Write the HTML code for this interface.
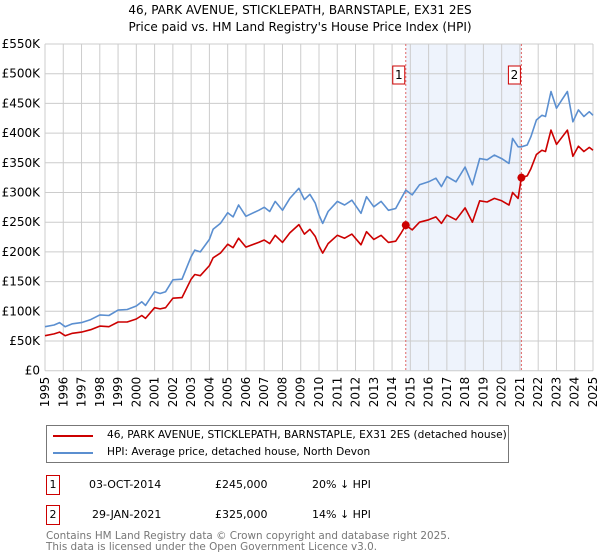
<!DOCTYPE html>
<html><head><meta charset="utf-8"><style>
body{margin:0;background:#fff;font-family:"DejaVu Sans","Liberation Sans",sans-serif;}
#root{position:relative;width:600px;height:560px;overflow:hidden;}
.t{position:absolute;font-size:11px;color:#000;white-space:nowrap;}
</style></head><body>
<div id="root">
<div class="t" style="left:0;width:600px;text-align:center;top:2px;font-size:12px;line-height:17px">46, PARK AVENUE, STICKLEPATH, BARNSTAPLE, EX31 2ES<br>Price paid vs. HM Land Registry's House Price Index (HPI)</div>
<svg id="chart" width="600" height="410" style="position:absolute;left:0;top:0" font-family="DejaVu Sans, Liberation Sans, sans-serif" font-size="12"></svg>
<div style="position:absolute;left:46px;top:425px;width:461px;height:36px;border:1px solid #777;">
 <div style="position:absolute;left:6px;top:2px;height:16px;width:450px">
  <div style="position:absolute;left:0;top:7px;width:40px;height:2px;background:#cc0000"></div>
  <span class="t" style="left:54px;top:1px;font-size:10.6px">46, PARK AVENUE, STICKLEPATH, BARNSTAPLE, EX31 2ES (detached house)</span></div>
 <div style="position:absolute;left:6px;top:19px;height:16px;width:450px">
  <div style="position:absolute;left:0;top:7px;width:40px;height:2px;background:#5b8fd0"></div>
  <span class="t" style="left:54px;top:1px;font-size:10.6px">HPI: Average price, detached house, North Devon</span></div>
</div>
<div>
 <div class="t" style="left:46px;top:475px;width:12px;height:18px;border:1px solid #cc0000;text-align:center;line-height:18px">1</div>
 <div class="t" style="left:89px;top:478px">03-OCT-2014</div>
 <div class="t" style="left:215px;top:478px">£245,000</div>
 <div class="t" style="left:312px;top:478px">20% ↓ HPI</div>
</div>
<div>
 <div class="t" style="left:46px;top:505px;width:12px;height:18px;border:1px solid #cc0000;text-align:center;line-height:18px">2</div>
 <div class="t" style="left:92px;top:508px">29-JAN-2021</div>
 <div class="t" style="left:215px;top:508px">£325,000</div>
 <div class="t" style="left:312px;top:508px">14% ↓ HPI</div>
</div>
<div class="t" style="left:46px;top:531px;color:#777;font-size:10.4px;line-height:11px">Contains HM Land Registry data © Crown copyright and database right 2025.<br>This data is licensed under the Open Government Licence v3.0.</div>
</div>
<script>
const years=[1995,1995.5,1995.8,1996.1,1996.5,1997,1997.5,1998,1998.5,1999,1999.5,2000,2000.3,2000.5,2001,2001.3,2001.6,2002,2002.5,2003,2003.2,2003.5,2004,2004.2,2004.6,2005,2005.3,2005.6,2006,2006.7,2007,2007.3,2007.6,2008,2008.4,2008.9,2009.2,2009.5,2009.8,2010,2010.2,2010.5,2011,2011.4,2011.8,2012.3,2012.6,2013,2013.4,2013.8,2014.2,2014.5,2014.75,2015.1,2015.5,2016,2016.4,2016.7,2017,2017.5,2018,2018.4,2018.8,2019.2,2019.6,2020,2020.4,2020.6,2020.9,2021.08,2021.4,2021.6,2021.9,2022.2,2022.4,2022.7,2023,2023.3,2023.6,2023.9,2024.2,2024.5,2024.8,2025];
const hpi=[74,77,81,74,79,81,86,94,93,102,103,109,116,110,133,130,133,153,154,192,203,200,221,238,248,266,259,279,260,270,275,268,285,270,290,307,288,297,282,262,248,268,285,279,287,265,293,276,285,270,273,290,304,296,313,318,324,310,327,318,343,313,357,355,363,357,349,391,377,377,380,394,422,430,428,470,442,456,470,419,439,428,436,430];
const price=[59,62,65,59,63,65,69,75,74,82,82,87,93,88,106,104,106,122,123,154,162,160,177,190,198,213,207,223,208,216,220,214,228,216,232,246,230,238,226,210,198,214,228,223,230,212,234,221,228,216,218,232,245,237,250,254,259,248,262,254,274,250,286,284,290,286,279,300,290,325,328,340,364,371,369,405,381,393,405,361,378,369,376,371];
const saleYears=[2014.75,2021.08];
const salePrices=[245,325];
const saleLabels=["1","2"];
const yTicks=[0,50,100,150,200,250,300,350,400,450,500,550];
const yTickLabels=["£0","£50K","£100K","£150K","£200K","£250K","£300K","£350K","£400K","£450K","£500K","£550K"];
const xTicks=[1995,1996,1997,1998,1999,2000,2001,2002,2003,2004,2005,2006,2007,2008,2009,2010,2011,2012,2013,2014,2015,2016,2017,2018,2019,2020,2021,2022,2023,2024,2025];

const svg=document.getElementById('chart');const NS='http://www.w3.org/2000/svg';
const X0=45,X1=593,Y0=370.7,Y1=44;
const xs=y=>X0+(y-1995)/30*(X1-X0);
const ys=v=>Y0-v/550*(Y0-Y1);
function mk(t,a){const e=document.createElementNS(NS,t);for(const k in a)e.setAttribute(k,a[k]);svg.appendChild(e);return e;}
let e=mk('rect',{x:xs(saleYears[0]),y:Y1,width:xs(saleYears[1])-xs(saleYears[0]),height:Y0-Y1,fill:'#eef3fc'});


yTicks.forEach((v,i)=>{
 let g=mk('line',{x1:X0,x2:X1,y1:ys(v),y2:ys(v),stroke:'#cccccc'});
 
 
 let t=mk('text',{x:X0-5,y:ys(v)+4,'text-anchor':'end'});t.textContent=yTickLabels[i];
 
 
});
xTicks.forEach(yr=>{
 let g=mk('line',{x1:xs(yr),x2:xs(yr),y1:Y1,y2:Y0,stroke:'#cccccc'});
 
 
 let t=mk('text',{x:0,y:0,'text-anchor':'end',transform:`translate(${xs(yr)+4},${Y0+6}) rotate(-90)`});t.textContent=yr;
 
 
});
saleYears.forEach((yr,i)=>{
 let l=mk('line',{x1:xs(yr),x2:xs(yr),y1:Y1,y2:Y0,stroke:'#e06666','stroke-dasharray':'2,2'});
 
 
 let r=mk('rect',{x:xs(yr)-13,y:66,width:12,height:18,fill:'#fff',stroke:'#cc0000'});
 
 
 let t=mk('text',{x:xs(yr)-7,y:79,'text-anchor':'middle'});t.textContent=saleLabels[i];
 
 
});
function path(vals,col,name){
 let d=vals.map((v,i)=>(i?'L':'M')+xs(years[i]).toFixed(1)+','+ys(v).toFixed(1)).join('');
 let p=mk('path',{d:d,fill:'none',stroke:col,'stroke-width':1.6,'stroke-linejoin':'round'});
 
 
}
path(hpi,'#5b8fd0','hpi-line');
path(price,'#cc0000','price-line');
saleYears.forEach((yr,i)=>{
 let c=mk('circle',{cx:xs(yr),cy:ys(salePrices[i]),r:4,fill:'#cc0000'});
 
 
});
</script>
</body></html>
